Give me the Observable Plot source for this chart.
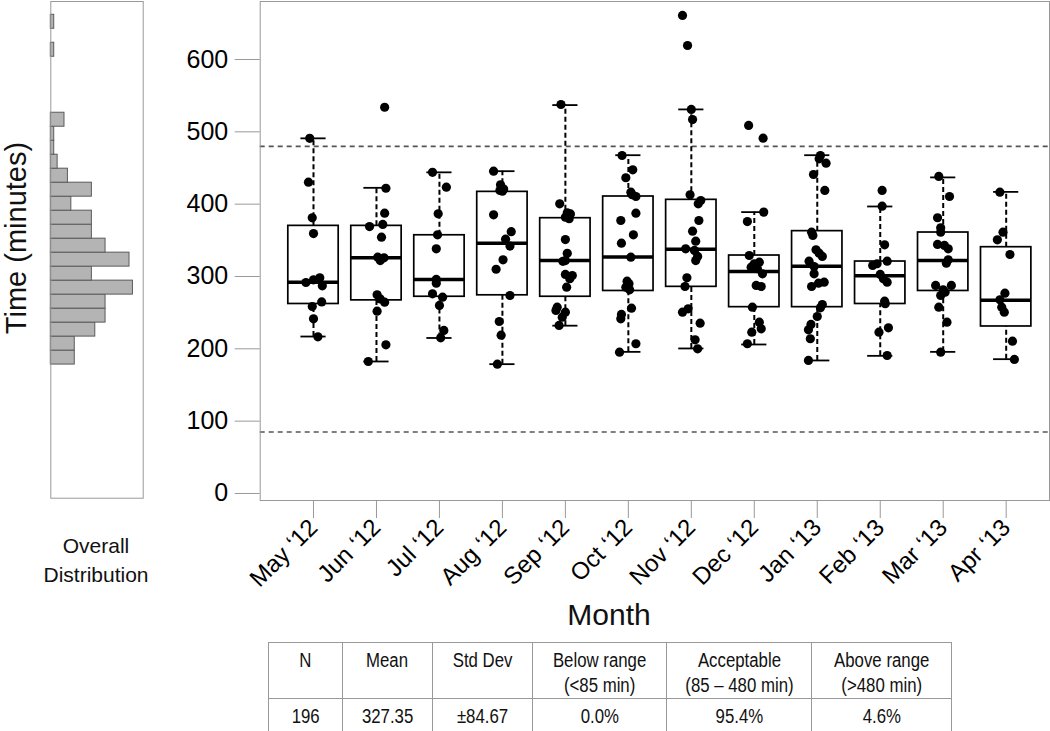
<!DOCTYPE html>
<html><head><meta charset="utf-8">
<script src="https://cdn.jsdelivr.net/npm/d3@7"></script>
<script src="https://cdn.jsdelivr.net/npm/@observablehq/plot@0.6"></script>
<style>
body{margin:0;background:#fff;}
#wrap{position:relative;width:1050px;height:731px;overflow:hidden;background:#fff;font-family:"Liberation Sans",Arial,sans-serif;}
#hist{position:absolute;left:0;top:0;}
#main{position:absolute;left:160px;top:0;}
#labels{position:absolute;left:0;top:0;pointer-events:none;}
table{position:absolute;left:268px;top:642px;border-collapse:collapse;table-layout:fixed;font-family:"Liberation Sans Narrow","Arial Narrow","Liberation Sans",sans-serif;font-size:20px;color:#111;}
td{border:1px solid #999;text-align:center;padding:0;white-space:nowrap;}
td span{display:inline-block;transform:scaleX(0.84);transform-origin:center;}
tr.head td{height:54px;vertical-align:top;padding-top:5px;line-height:25px;box-sizing:border-box;}
tr.row td{height:33px;vertical-align:middle;line-height:20px;}
</style>
</head><body>
<div id="wrap">
  <div id="hist"></div>
  <div id="main"></div>
  <svg id="labels" width="1050" height="731"></svg>
  <table id="stats"></table>
</div>
<script>
// ---------------- data ----------------
const months = ["May \u201812","Jun \u201812","Jul \u201812","Aug \u201812","Sep \u201812","Oct \u201812","Nov \u201812","Dec \u201812","Jan \u201813","Feb \u201813","Mar \u201813","Apr \u201813"];

const monthValues = [
  [491, 430.4, 381.1, 359.4, 291.7, 295.4, 298.2, 287.1, 264.9, 258.5, 241.5, 216.6],
  [534, 422, 387.5, 372, 369, 354.4, 326.7, 325.8, 322, 274.7, 269, 264.5, 252, 205.5, 182.5],
  [444, 423.5, 386.7, 357.6, 338.3, 295.9, 290.8, 276, 271.4, 260, 225.4, 215.2],
  [445.6, 426.7, 421, 418.9, 418, 385.3, 362, 351.6, 342, 323, 310, 273.7, 237.8, 218.9, 178.8],
  [537.8, 400.5, 388, 386.5, 382, 380, 351, 332, 322, 321, 302.8, 301.4, 297, 285.2, 257.6, 253, 250.7, 243.8, 232.3],
  [467.3, 447.5, 436.5, 416.6, 410.6, 413, 387.5, 377.4, 357.6, 346, 326.7, 293.5, 290, 285.2, 281.6, 256.2, 247.5, 241.5, 207, 195.4],
  [660.9, 619.4, 531, 517, 413, 405, 400.5, 377.4, 362.6, 348.8, 338.3, 336, 327.7, 322, 298.2, 286.2, 250.7, 255.3, 235.4, 212.5, 200],
  [508.8, 491.3, 389, 376, 329, 317.6, 319.8, 310.7, 303.7, 312.9, 287.6, 286.2, 257.6, 236.8, 227.7, 223, 207],
  [467.3, 462.7, 456.7, 441, 419, 361.3, 356.7, 337, 332.2, 327.7, 321.2, 313.8, 303.7, 292.2, 290.8, 286.2, 261.3, 256.7, 244.7, 233.7, 226.3, 213.9, 183.9],
  [419, 397.2, 343.8, 315.2, 317.6, 321.2, 302.8, 296.8, 292.2, 265.9, 262.3, 223, 229, 190.8],
  [438.3, 410.6, 381.2, 367.3, 361.3, 344.3, 342.9, 338.3, 323.1, 318.4, 287.6, 287.6, 281.6, 273.7, 278.3, 257.6, 236.8, 195.4],
  [416.6, 361.3, 350.7, 330.4, 277, 267.8, 257.6, 250.7, 210.6, 185.3]
];

// horizontal jitter of each point (in month units)
const jitter = [
  [-0.06, -0.08, -0.02, 0, -0.12, 0, 0.1, 0.14, 0.13, -0.02, 0, 0.07],
  [0.13, 0.15, 0.13, 0.1, -0.11, 0.08, 0.02, 0.12, 0.06, 0.01, 0.06, 0.13, 0.01, 0.15, -0.13],
  [-0.11, 0.11, -0.02, -0.03, -0.05, -0.05, -0.05, -0.11, 0.05, 0, 0.07, 0.02],
  [-0.14, -0.03, 0.02, -0.04, 0, -0.14, 0.14, 0.05, 0.12, 0.01, -0.1, 0.12, -0.05, -0.02, -0.08],
  [-0.07, -0.09, 0.03, 0.08, 0, 0.06, 0, 0.03, 0, -0.04, 0, 0.11, 0.07, 0.02, -0.13, -0.15, 0, -0.05, -0.1],
  [-0.1, 0.07, -0.04, 0.04, 0.12, 0.06, 0.12, -0.12, 0.08, -0.11, 0.04, -0.02, 0.01, -0.04, 0.02, 0.05, -0.11, -0.12, 0.12, -0.14],
  [-0.14, -0.06, 0, 0.02, -0.02, 0.15, 0.11, 0.12, 0.02, 0.07, -0.09, 0.05, 0.1, 0.07, -0.07, -0.1, -0.14, -0.05, 0.14, 0.06, 0.1],
  [-0.09, 0.14, 0.15, -0.11, -0.08, 0, 0.08, 0.05, 0.13, -0.05, 0.03, 0.11, -0.03, 0.08, 0.11, -0.04, -0.11],
  [0.05, 0.03, 0.14, -0.06, 0.12, -0.09, -0.07, -0.02, 0.03, 0.08, -0.13, -0.05, -0.05, 0.11, 0.02, -0.09, 0.08, 0.05, 0, -0.1, -0.14, -0.11, -0.14],
  [0.03, 0.03, 0.07, -0.12, -0.05, 0.11, 0, 0.05, 0.11, 0.07, 0.08, -0.02, 0.13, 0.11],
  [-0.07, 0.1, -0.09, -0.04, -0.04, -0.09, 0.02, 0.08, 0.08, 0.05, -0.12, 0.13, 0, -0.04, 0.03, -0.07, 0.06, -0.04],
  [-0.1, -0.05, -0.14, 0.06, -0.02, -0.1, -0.07, -0.03, 0.1, 0.13]
];

// box-plot statistics as drawn
const q1s       = [262, 267, 272, 274, 272, 280, 285.7, 257.6, 257.6, 262, 280, 230.9];
const medians   = [292, 326, 296, 346, 322, 327, 337.8, 307, 314, 301, 322, 267];
const q3s       = [370, 370, 357, 417, 380.6, 410.6, 406, 329, 362.7, 320.7, 360.8, 340.5];
const whiskerLo = [217, 182.5, 215, 178.8, 232, 195.8, 200.5, 206, 183.9, 190.3, 195.8, 185.7];
const whiskerHi = [491, 422.6, 444, 445.6, 537, 467.7, 531, 389, 467.7, 396.8, 437, 417];

const refLines = [480, 85];
const yTicks = [0, 100, 200, 300, 400, 500, 600];

// overall distribution histogram (bin lower edge, count)
const binWidth = 20;
const binLows   = [180, 200, 220, 240, 260, 280, 300, 320, 340, 360, 380, 400, 420, 440, 460, 480, 500, 520, 620, 660];
const binCounts = [7, 7, 13, 16, 16, 24, 12, 23, 16, 12, 12, 6, 12, 5, 2, 1, 1, 4, 1, 1];

// summary table
const tableHeaders = ["N", "Mean", "Std Dev", "Below range<br>(&lt;85 min)", "Acceptable<br>(85 \u2013 480 min)", "Above range<br>(&gt;480 min)"];
const tableValues  = ["196", "327.35", "\u00b184.67", "0.0%", "95.4%", "4.6%"];
const colWidths = [74, 90, 100, 134, 145, 140];

// ---------------- build ----------------
const boxData = months.map((m, k) => ({i: k + 1, q1: q1s[k], med: medians[k], q3: q3s[k], lo: whiskerLo[k], hi: whiskerHi[k]}));
const pts = monthValues.flatMap((vals, k) => vals.map((v, j) => ({x: k + 1 + jitter[k][j], y: v})));
const bins = binLows.map((lo, k) => ({lo, hi: lo + binWidth, count: binCounts[k]}));

const font = "Liberation Sans, Arial, sans-serif";

const main = Plot.plot({
  width: 890, height: 640,
  marginLeft: 99.7, marginRight: 1, marginTop: 1, marginBottom: 140,
  style: {background: "transparent", fontFamily: font, color: "black"},
  x: {type: "linear", domain: [0.1536, 12.688]},
  y: {domain: [-9.7, 680.2]},
  marks: [
    Plot.ruleY(refLines, {stroke: "#555", strokeWidth: 1.7, strokeDasharray: "5,4"}),
    Plot.ruleX(boxData, {x: "i", y1: "q3", y2: "hi", stroke: "black", strokeWidth: 2, strokeDasharray: "5,3"}),
    Plot.ruleX(boxData, {x: "i", y1: "lo", y2: "q1", stroke: "black", strokeWidth: 2, strokeDasharray: "5,3"}),
    Plot.ruleY(boxData, {y: "hi", x1: d => d.i - 0.2, x2: d => d.i + 0.2, stroke: "black", strokeWidth: 1.8}),
    Plot.ruleY(boxData, {y: "lo", x1: d => d.i - 0.2, x2: d => d.i + 0.2, stroke: "black", strokeWidth: 1.8}),
    Plot.rect(boxData, {x1: d => d.i - 0.4, x2: d => d.i + 0.4, y1: "q1", y2: "q3", fill: "none", stroke: "black", strokeWidth: 1.7}),
    Plot.ruleY(boxData, {y: "med", x1: d => d.i - 0.4, x2: d => d.i + 0.4, stroke: "black", strokeWidth: 3.5}),
    Plot.dot(pts, {x: "x", y: "y", r: 4.6, fill: "black", stroke: "none"}),
    Plot.frame({stroke: "#999"}),
    Plot.axisY({ticks: yTicks, tickSize: 25, tickPadding: 7, fontSize: 25, stroke: "#999", fill: "black", label: null}),
    Plot.axisX({ticks: months.map((m, k) => k + 1), tickFormat: i => months[i - 1], tickSize: 18, tickPadding: 5, tickRotate: -45, fontSize: 24, stroke: "#999", fill: "black", label: null})
  ]
});
document.getElementById("main").appendChild(main);

const hist = Plot.plot({
  width: 160, height: 500,
  marginLeft: 50.3, marginRight: 17.3, marginTop: 1, marginBottom: 2.3,
  style: {background: "transparent"},
  x: {domain: [0, 27], axis: null},
  y: {domain: [-11, 699], axis: null},
  marks: [
    Plot.rect(bins, {x1: 0, x2: "count", y1: "lo", y2: "hi", fill: "#b4b4b4", stroke: "#5a5a5a", strokeWidth: 1}),
    Plot.frame({stroke: "#999"})
  ]
});
document.getElementById("hist").appendChild(hist);

// text labels
const svg = d3.select("#labels").style("font-family", font);
svg.append("text").attr("transform", "translate(26,238) rotate(-90)").attr("text-anchor", "middle")
  .attr("font-size", 29).attr("fill", "#111").text("Time (minutes)");
svg.append("text").attr("x", 96).attr("y", 553).attr("text-anchor", "middle").attr("font-size", 21).attr("fill", "#111").text("Overall");
svg.append("text").attr("x", 96).attr("y", 582).attr("text-anchor", "middle").attr("font-size", 21).attr("fill", "#111").text("Distribution");
svg.append("text").attr("x", 609).attr("y", 625).attr("text-anchor", "middle").attr("font-size", 30).attr("fill", "#111").text("Month");

// table
const table = d3.select("#stats");
table.append("colgroup").selectAll("col").data(colWidths).join("col").style("width", d => d + "px");
table.append("tr").attr("class", "head").selectAll("td").data(tableHeaders).join("td").append("span").html(d => d);
table.append("tr").attr("class", "row").selectAll("td").data(tableValues).join("td").append("span").text(d => d);
</script>
</body></html>
